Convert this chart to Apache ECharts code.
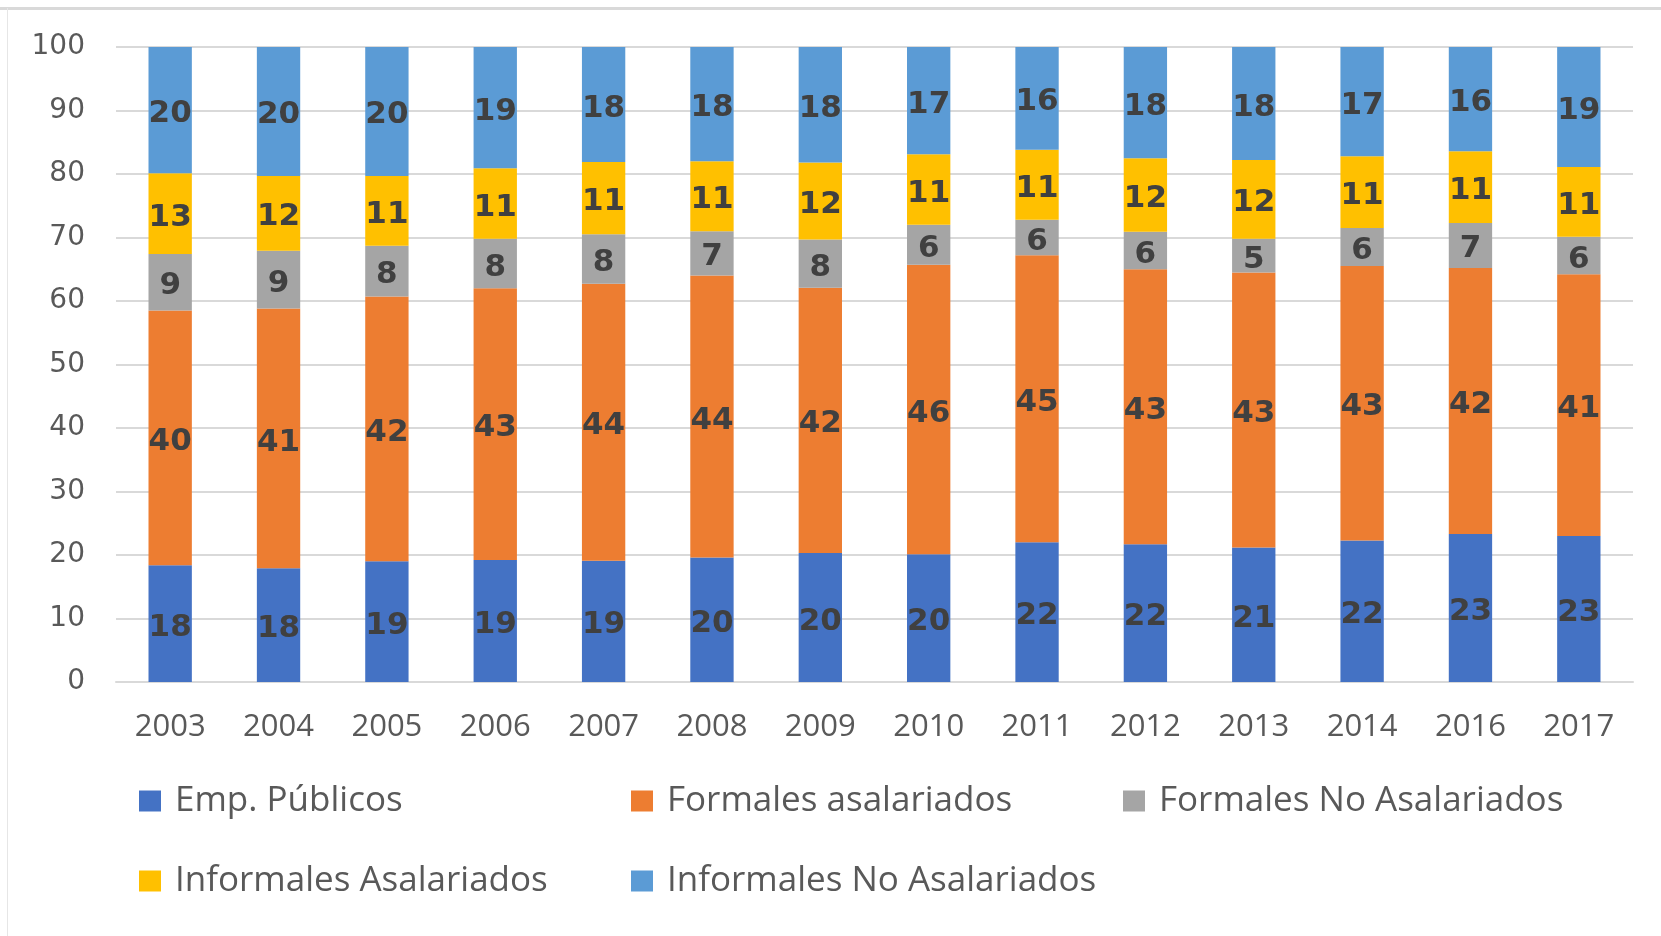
<!DOCTYPE html>
<html>
<head>
<meta charset="utf-8">
<script src="https://cdn.jsdelivr.net/npm/echarts@6/dist/echarts.min.js"></script>
<style>
    html, body { margin: 0; padding: 0; background: #fff; }
    #chart { width: 1661px; height: 936px; }
</style>
</head>
<body>
<div id="chart"></div>
<script>
// 年份
const years = ['2003', '2004', '2005', '2006', '2007', '2008', '2009', '2010', '2011', '2012', '2013', '2014', '2016', '2017'];

// 各类别占比 (%)
const empPublicos = [18.4, 17.9, 19.0, 19.2, 19.1, 19.6, 20.3, 20.1, 22.0, 21.7, 21.2, 22.3, 23.3, 23.0];
const formalesAsalariados = [40.1, 40.9, 41.7, 42.8, 43.6, 44.4, 41.8, 45.6, 45.2, 43.3, 43.3, 43.2, 41.9, 41.2];
const formalesNoAsalariados = [8.9, 9.1, 8.0, 7.8, 7.8, 7.0, 7.6, 6.3, 5.6, 5.9, 5.3, 6.0, 7.1, 5.9];
const informalesAsalariados = [12.7, 11.8, 11.0, 11.1, 11.4, 11.0, 12.1, 11.1, 11.0, 11.6, 12.4, 11.3, 11.3, 11.0];
const informalesNoAsalariados = [19.9, 20.3, 20.3, 19.1, 18.1, 18.1, 18.3, 17.0, 16.2, 17.5, 17.8, 17.2, 16.4, 18.9];

// Y 轴刻度
const yTicks = { min: 0, max: 100, interval: 10 };

const seriesDefs = [
    { name: 'Emp. Públicos', data: empPublicos, color: '#4472C4' },
    { name: 'Formales asalariados', data: formalesAsalariados, color: '#ED7D31' },
    { name: 'Formales No Asalariados', data: formalesNoAsalariados, color: '#A5A5A5' },
    { name: 'Informales Asalariados', data: informalesAsalariados, color: '#FFC000' },
    { name: 'Informales No Asalariados', data: informalesNoAsalariados, color: '#5B9BD5' }
];

// 图例位置 (两行三列)
const legendPos = [
    { left: 139, top: 781 },
    { left: 631, top: 781 },
    { left: 1123, top: 781 },
    { left: 139, top: 861 },
    { left: 631, top: 861 }
];

const chart = echarts.init(document.getElementById('chart'));

const option = {
    animation: false,
    backgroundColor: '#fff',
    color: seriesDefs.map(s => s.color),
    graphic: [
        {
            type: 'line',
            shape: { x1: 0, y1: 8.5, x2: 1661, y2: 8.5 },
            style: { stroke: '#D9D9D9', lineWidth: 3 }
        },
        {
            type: 'line',
            shape: { x1: 7.5, y1: 8, x2: 7.5, y2: 936 },
            style: { stroke: '#E6E6E6', lineWidth: 1 }
        }
    ],
    grid: {
        left: 116,
        right: 28,
        top: 47,
        bottom: 254
    },
    legend: seriesDefs.map((s, i) => ({
        data: [s.name],
        left: legendPos[i].left,
        top: legendPos[i].top,
        padding: 0,
        icon: 'rect',
        itemWidth: 22,
        itemHeight: 21,
        selectedMode: false,
        textStyle: {
            fontFamily: 'Open Sans',
            fontSize: 35,
            color: '#595959',
            lineHeight: 40,
            padding: [0, 0, 0, 9]
        }
    })),
    xAxis: {
        type: 'category',
        data: years,
        axisTick: { show: false },
        axisLine: { lineStyle: { color: '#D9D9D9', width: 2 } },
        axisLabel: {
            margin: 30,
            fontFamily: 'Open Sans',
            fontSize: 31,
            color: '#595959'
        }
    },
    yAxis: {
        type: 'value',
        min: yTicks.min,
        max: yTicks.max,
        interval: yTicks.interval,
        axisLine: { show: false },
        axisTick: { show: false },
        splitLine: { lineStyle: { color: '#D9D9D9', width: 2 } },
        axisLabel: {
            margin: 31,
            fontFamily: 'DejaVu Sans',
            fontSize: 28,
            color: '#595959',
            padding: [4, 0, 0, 0]
        }
    },
    series: seriesDefs.map(s => ({
        name: s.name,
        type: 'bar',
        stack: 'total',
        barWidth: '40%',
        data: s.data,
        itemStyle: { color: s.color },
        label: {
            show: true,
            position: 'inside',
            offset: [0, 4],
            fontFamily: 'DejaVu Sans',
            fontWeight: 'bold',
            fontSize: 31,
            color: '#404040',
            formatter: p => Math.round(p.value)
        }
    }))
};

chart.setOption(option);
</script>
</body>
</html>
